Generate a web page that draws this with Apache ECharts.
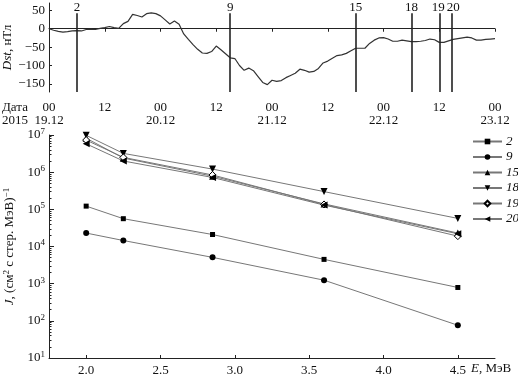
<!DOCTYPE html>
<html>
<head>
<meta charset="utf-8">
<script src="https://cdn.jsdelivr.net/npm/echarts@6/dist/echarts.min.js"></script>
<style>
  html, body { margin: 0; padding: 0; background: #fff; }
  #main { width: 518px; height: 377px; }
</style>
</head>
<body>
<div id="main"></div>
<script>
// top panel: Dst index, hours from 00 19.12.2015
const dstHours = [];
for (let h = 0; h <= 96; h++) dstHours.push(h);
const dstValues = [
  0, -4, -7, -9, -8, -6, -5, -6, -2, -1, -2, 1, 3, 6, 3, 1,
  14, 20, 39, 36, 32, 41, 43, 41, 35, 24, 13, 21, 12, -14, -29, -43,
  -56, -66, -67, -62, -47, -57, -68, -79, -81, -100, -113, -107, -114, -130, -146, -152,
  -140, -143, -141, -133, -127, -121, -110, -113, -118, -116, -108, -93, -88, -80, -73, -71,
  -67, -60, -53, -53, -53, -40, -31, -25, -24, -28, -34, -34, -31, -33, -35, -35,
  -34, -32, -28, -30, -37, -37, -33, -29, -27, -25, -23, -25, -31, -31, -29, -28, -27
];
const eventHours = [6, 39, 66, 78, 84, 86.6];
const eventNames = ["2", "9", "15", "18", "19", "20"];
const eventLineTop = 42;
const hourTicks = [0, 12, 24, 36, 48, 60, 72, 84, 96];
const hourLabels = ["00\n19.12", "12", "00\n20.12", "12", "00\n21.12", "12", "00\n22.12", "12", "00\n23.12"];
const dstTicks = [-150, -100, -50, 0, 50];

// bottom panel: spectra
const energy = [2.0, 2.25, 2.85, 3.6, 4.5];
const energyTicks = [2.0, 2.5, 3.0, 3.5, 4.0, 4.5];
const flux2 = [1.22e5, 5.6e4, 2.1e4, 4.5e3, 790];
const flux9 = [2.3e4, 1.45e4, 5.1e3, 1.24e3, 76];
const flux15 = [8.2e6, 2.4e6, 7.8e5, 1.4e5, 2.3e4];
const flux18 = [9.8e6, 3.2e6, 1.21e6, 3.0e5, 5.7e4];
const flux19 = [7.3e6, 2.5e6, 8.4e5, 1.35e5, 1.9e4];
const flux20 = [5.8e6, 2.0e6, 7.2e5, 1.3e5, 2.2e4];
const decades = [10, 100, 1e3, 1e4, 1e5, 1e6, 1e7];

const FONT = "Times New Roman, Liberation Serif, serif";
const minorTicks = [];
decades.slice(0, -1).forEach(d => { for (let k = 2; k <= 9; k++) minorTicks.push(d * k); });

const chart = echarts.init(document.getElementById("main"));

const spectra = [
  { name: "2", data: flux2, symbol: "rect", size: 5, rotate: 0, fill: "#000" },
  { name: "9", data: flux9, symbol: "circle", size: 6, rotate: 0, fill: "#000" },
  { name: "15", data: flux15, symbol: "triangle", size: 7, rotate: 0, fill: "#000" },
  { name: "18", data: flux18, symbol: "triangle", size: 7, rotate: 180, fill: "#000" },
  { name: "19", data: flux19, symbol: "diamond", size: 7, rotate: 0, fill: "#fff" },
  { name: "20", data: flux20, symbol: "triangle", size: 7, rotate: 90, fill: "#000" },
];

const minus = v => String(v).replace("-", "\u2212");

const series = [
  {
    type: "line",
    xAxisIndex: 0,
    yAxisIndex: 0,
    data: dstHours.map((h, i) => [h, dstValues[i]]),
    symbol: "none",
    lineStyle: { color: "#333", width: 1.2 },
    silent: true,
    markLine: {
      symbol: "none",
      silent: true,
      lineStyle: { color: "#222", width: 1.6, type: "solid" },
      label: {
        show: true,
        position: "end",
        distance: -1,
        formatter: "{b}",
        color: "#111",
        fontFamily: FONT,
        fontSize: 13,
      },
      // the last two labels sit close together; nudge them apart a little
      data: eventHours.map((h, i) => [
        { name: eventNames[i], coord: [h, -172], label: { offset: [i === 4 ? -1 : i === 5 ? 2 : 0, 0] } },
        { coord: [h, eventLineTop] },
      ]),
    },
  },
];

spectra.forEach(s => {
  series.push({
    name: s.name,
    type: "line",
    xAxisIndex: 1,
    yAxisIndex: 1,
    data: energy.map((e, i) => [e, s.data[i]]),
    symbol: s.symbol,
    symbolSize: s.size,
    symbolRotate: s.rotate,
    showAllSymbol: true,
    lineStyle: { color: "#777", width: 1 },
    itemStyle: { color: s.fill, borderColor: "#000", borderWidth: s.fill === "#fff" ? 1 : 0 },
  });
});

chart.setOption({
  animation: false,
  backgroundColor: "#fff",
  textStyle: { fontFamily: FONT, color: "#111" },
  grid: [
    { left: 49, right: 23, top: 3, height: 89, outerBoundsMode: "none", containLabel: false },
    { left: 49, right: 23, top: 135, height: 223, outerBoundsMode: "none", containLabel: false },
  ],
  legend: {
    orient: "vertical",
    left: 472,
    top: 135,
    padding: 0,
    width: 46,
    itemWidth: 29,
    itemHeight: 7,
    itemGap: 2.5,
    textStyle: { fontFamily: FONT, fontSize: 13, fontStyle: "italic", color: "#111", lineHeight: 13, padding: [0, 0, 0, -1], overflow: "none" },
    data: spectra.map(s => s.name),
  },
  graphic: [
    { type: "text", left: 2, top: 101, style: { text: "Дата", font: "13px " + FONT, fill: "#111" } },
    { type: "text", left: 2, top: 114, style: { text: "2015", font: "13px " + FONT, fill: "#111" } },
  ],
  xAxis: [
    {
      gridIndex: 0,
      type: "value",
      min: 0,
      max: 96,
      interval: 12,
      axisLine: { lineStyle: { color: "#222", width: 1 } },
      axisTick: { length: 3, lineStyle: { color: "#222" } },
      splitLine: { show: false },
      axisLabel: {
        margin: 9,
        color: "#111",
        fontFamily: FONT,
        fontSize: 13,
        lineHeight: 13,
        verticalAlign: "top",
        formatter: v => hourLabels[hourTicks.indexOf(v)] || "",
      },
    },
    {
      gridIndex: 1,
      type: "value",
      min: 1.75,
      max: 4.75,
      axisLine: { lineStyle: { color: "#222", width: 1 } },
      axisTick: { inside: true, length: 3, customValues: energyTicks, lineStyle: { color: "#222" } },
      splitLine: { show: false },
      axisLabel: {
        margin: 6,
        color: "#111",
        fontFamily: FONT,
        fontSize: 13,
        customValues: energyTicks,
        formatter: v => v.toFixed(1),
      },
      name: "{i|E}, МэВ",
      nameLocation: "end",
      nameGap: -24,
      nameMoveOverlap: false,
      nameTextStyle: {
        fontFamily: FONT,
        fontSize: 13,
        color: "#111",
        align: "left",
        padding: [21, 0, 0, 0],
        rich: { i: { fontStyle: "italic", fontFamily: FONT, fontSize: 13, color: "#111" } },
      },
    },
  ],
  yAxis: [
    {
      gridIndex: 0,
      type: "value",
      min: -172,
      max: 70,
      axisLine: { show: true, lineStyle: { color: "#222", width: 1 } },
      axisTick: { show: true, inside: true, length: 3, customValues: dstTicks, lineStyle: { color: "#222" } },
      splitLine: { show: false },
      axisLabel: {
        margin: 4,
        color: "#111",
        fontFamily: FONT,
        fontSize: 13,
        customValues: dstTicks,
        formatter: minus,
      },
      name: "{i|Dst}, нТл",
      nameLocation: "middle",
      nameRotate: 90,
      nameGap: 35,
      nameMoveOverlap: false,
      nameTextStyle: {
        fontFamily: FONT,
        fontSize: 13,
        color: "#111",
        rich: { i: { fontStyle: "italic", fontFamily: FONT, fontSize: 13, color: "#111" } },
      },
    },
    {
      gridIndex: 1,
      type: "log",
      logBase: 10,
      min: 10,
      max: 1e7,
      axisLine: { show: true, lineStyle: { color: "#222", width: 1 } },
      axisTick: { show: true, inside: true, length: 5, customValues: decades, lineStyle: { color: "#222" } },
      splitLine: { show: false },
      axisLabel: {
        margin: 4,
        color: "#111",
        fontFamily: FONT,
        fontSize: 13,
        customValues: decades,
        formatter: v => "10{s|" + Math.round(Math.log10(v)) + "}",
        rich: { s: { fontSize: 9, verticalAlign: "top", padding: [0, 0, 7, 0], fontFamily: FONT, color: "#111" } },
      },
      name: "{i|J}, (см{s|2} с стер. МэВ){s|\u22121}",
      nameLocation: "middle",
      nameRotate: 90,
      nameGap: 31,
      nameMoveOverlap: false,
      nameTextStyle: {
        fontFamily: FONT,
        fontSize: 13,
        color: "#111",
        rich: {
          i: { fontStyle: "italic", fontFamily: FONT, fontSize: 13, color: "#111" },
          s: { fontSize: 9, fontFamily: FONT, color: "#111", padding: [0, 0, 7, 0] },
        },
      },
    },
    {
      gridIndex: 1,
      type: "log",
      logBase: 10,
      min: 10,
      max: 1e7,
      position: "left",
      offset: 0,
      axisLine: { show: false },
      axisTick: { show: true, inside: true, length: 2.5, customValues: minorTicks, lineStyle: { color: "#222" } },
      axisLabel: { show: false },
      splitLine: { show: false },
    },
  ],
  series: series,
});
</script>
</body>
</html>
